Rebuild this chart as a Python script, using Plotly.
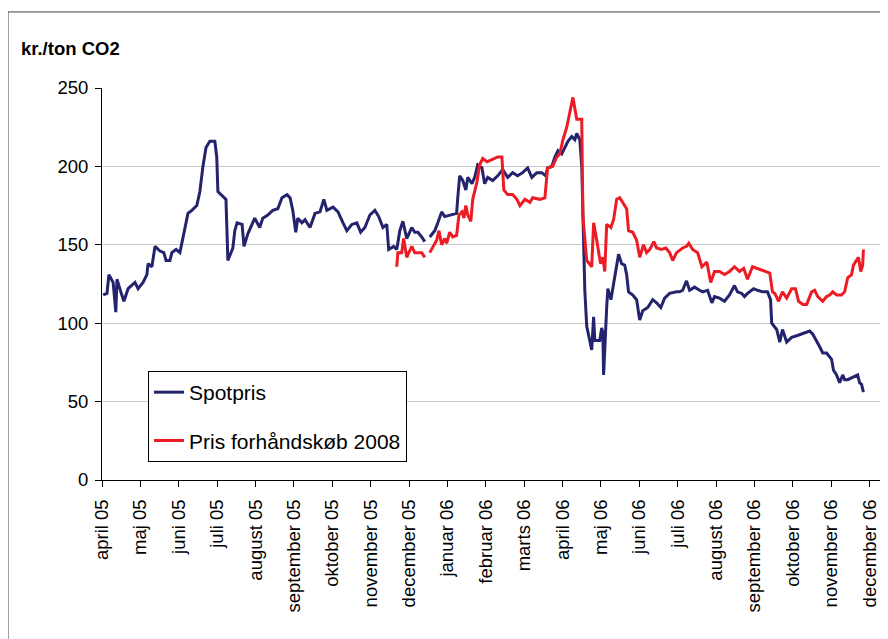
import plotly.graph_objects as go

month_labels = ["april 05", "maj 05", "juni 05", "juli 05", "august 05", "september 05",
                "oktober 05", "november 05", "december 05", "januar 06", "februar 06",
                "marts 06", "april 06", "maj 06", "juni 06", "juli 06", "august 06",
                "september 06", "oktober 06", "november 06", "december 06"]

# (month position from april 05, kr./ton CO2)
spot_points = [
    (0.03, 118), (0.13, 119), (0.18, 131), (0.29, 126), (0.36, 107), (0.39, 128), (0.49, 120), (0.57, 114),
    (0.68, 122), (0.86, 126), (0.94, 122), (1.07, 126), (1.17, 131), (1.20, 138), (1.30, 136), (1.38, 149),
    (1.51, 146), (1.61, 145), (1.67, 140), (1.77, 140), (1.82, 145), (1.93, 147), (2.03, 145), (2.11, 154),
    (2.24, 170), (2.34, 172), (2.47, 175), (2.55, 184), (2.63, 200), (2.71, 212), (2.81, 216), (2.94, 216),
    (2.99, 206), (3.02, 184), (3.18, 180), (3.23, 179), (3.28, 140), (3.41, 148), (3.46, 159), (3.52, 164),
    (3.65, 163), (3.70, 149), (3.80, 157), (3.98, 167), (4.11, 161), (4.19, 167), (4.32, 169), (4.45, 172),
    (4.58, 173), (4.69, 180), (4.82, 182), (4.90, 180), (4.97, 172), (5.05, 158), (5.10, 167), (5.21, 164),
    (5.29, 166), (5.42, 161), (5.55, 170), (5.68, 171), (5.78, 179), (5.86, 172), (6.02, 174), (6.15, 171),
    (6.28, 164), (6.38, 159), (6.51, 163), (6.64, 164), (6.74, 158), (6.85, 161), (6.98, 169), (7.11, 172),
    (7.21, 168), (7.32, 161), (7.42, 163), (7.47, 147), (7.60, 149), (7.68, 147), (7.76, 159), (7.84, 165),
    (7.94, 154), (8.07, 161), (8.15, 158), (8.23, 158), (8.33, 155), (8.41, 152), (8.47, None),
    (8.54, 155), (8.67, 159), (8.75, 164), (8.85, 171), (8.93, 168), (9.06, 169), (9.24, 170), (9.27, 180),
    (9.32, 194), (9.40, 191), (9.48, 185), (9.53, 193), (9.64, 189), (9.71, 193), (9.79, 201), (9.90, 199),
    (9.97, 189), (10.05, 193), (10.18, 191), (10.31, 194), (10.44, 198), (10.57, 193), (10.70, 196), (10.83, 194),
    (10.96, 196), (11.09, 199), (11.20, 193), (11.33, 196), (11.46, 196), (11.56, 194), (11.61, 199), (11.72, 200),
    (11.80, 206), (11.88, 210), (11.98, 208), (12.06, 212), (12.14, 216), (12.24, 219), (12.32, 217), (12.37, 221),
    (12.45, 217), (12.50, 200), (12.53, 164), (12.58, 121), (12.63, 98), (12.71, 89), (12.76, 83), (12.81, 104),
    (12.84, 89), (12.97, 89), (13.02, 97), (13.05, 94), (13.07, 67), (13.15, 110), (13.18, 122), (13.26, 115),
    (13.31, 123), (13.41, 136), (13.46, 144), (13.54, 138), (13.62, 137), (13.67, 131), (13.72, 120), (13.83, 118),
    (13.93, 115), (14.01, 102), (14.09, 108), (14.22, 110), (14.35, 115), (14.45, 113), (14.56, 110), (14.66, 116),
    (14.79, 119), (14.97, 120), (15.05, 120), (15.13, 121), (15.23, 127), (15.31, 121), (15.44, 123), (15.57, 121),
    (15.65, 120), (15.78, 121), (15.89, 113), (15.96, 117), (16.09, 116), (16.22, 114), (16.35, 118), (16.48, 124),
    (16.56, 120), (16.67, 119), (16.74, 117), (16.82, 119), (16.98, 122), (17.08, 121), (17.21, 120), (17.34, 120),
    (17.42, 115), (17.45, 100), (17.58, 96), (17.66, 88), (17.73, 96), (17.84, 88), (17.97, 91), (18.10, 92),
    (18.23, 93), (18.36, 94), (18.44, 95), (18.52, 93), (18.62, 89), (18.70, 85), (18.78, 81), (18.88, 81),
    (19.01, 77), (19.06, 70), (19.14, 67), (19.22, 62), (19.30, 67), (19.35, 64), (19.43, 64), (19.53, 65),
    (19.61, 66), (19.69, 67), (19.74, 62), (19.79, 61), (19.84, 56),
]

forward_points = [
    (7.68, 136), (7.71, 145), (7.81, 145), (7.86, 154), (7.94, 142), (8.02, 147), (8.07, 149), (8.15, 145),
    (8.23, 145), (8.33, 145), (8.41, 142), (8.47, None), (8.54, 145), (8.62, 149), (8.72, 153), (8.78, 159),
    (8.85, 150), (8.93, 154), (8.98, 151), (9.06, 158), (9.14, 155), (9.24, 156), (9.30, 169), (9.38, 171),
    (9.43, 167), (9.48, 175), (9.53, 169), (9.61, 165), (9.66, 179), (9.77, 190), (9.84, 201), (9.92, 205),
    (10.03, 203), (10.13, 204), (10.23, 205), (10.31, 206), (10.42, 206), (10.47, 185), (10.57, 182), (10.70, 182),
    (10.81, 179), (10.89, 175), (11.02, 179), (11.15, 177), (11.22, 180), (11.41, 179), (11.54, 180), (11.61, 199),
    (11.74, 200), (11.85, 206), (11.93, 208), (12.01, 217), (12.11, 225), (12.19, 234), (12.27, 244), (12.37, 230),
    (12.50, 230), (12.53, 168), (12.63, 140), (12.76, 136), (12.81, 164), (12.89, 153), (12.92, 149), (12.99, 138),
    (13.05, 142), (13.10, 133), (13.15, 163), (13.26, 161), (13.33, 166), (13.41, 179), (13.49, 180), (13.57, 177),
    (13.67, 173), (13.72, 159), (13.83, 158), (13.93, 153), (14.01, 142), (14.11, 150), (14.19, 145), (14.27, 147),
    (14.38, 152), (14.45, 148), (14.58, 147), (14.69, 148), (14.79, 145), (14.87, 140), (14.97, 145), (15.13, 148),
    (15.23, 149), (15.29, 151), (15.39, 147), (15.52, 145), (15.63, 136), (15.76, 139), (15.86, 126), (15.96, 133),
    (16.09, 133), (16.22, 131), (16.35, 133), (16.48, 136), (16.61, 133), (16.72, 135), (16.82, 128), (16.95, 136),
    (17.06, 135), (17.19, 134), (17.32, 133), (17.40, 132), (17.47, 120), (17.53, 119), (17.63, 114), (17.73, 120),
    (17.84, 116), (17.97, 122), (18.07, 122), (18.15, 114), (18.26, 112), (18.36, 112), (18.49, 120), (18.57, 121),
    (18.65, 117), (18.78, 114), (18.88, 117), (18.96, 118), (19.04, 120), (19.14, 118), (19.27, 118), (19.35, 120),
    (19.43, 129), (19.53, 131), (19.58, 137), (19.66, 140), (19.71, 142), (19.77, 133), (19.82, 137), (19.84, 147),
]

spot_month = [p[0] for p in spot_points]
spot_price = [p[1] for p in spot_points]
forward_month = [p[0] for p in forward_points]
forward_price = [p[1] for p in forward_points]

FONT = "Liberation Sans, Arial, sans-serif"

fig = go.Figure()
fig.add_trace(go.Scatter(x=spot_month, y=spot_price, mode="lines", name="Spotpris",
                         legendgroup="a", connectgaps=False,
                         line=dict(color="#23236e", width=3)))
fig.add_trace(go.Scatter(x=forward_month, y=forward_price, mode="lines", name="Pris forhåndskøb 2008",
                         legendgroup="b", connectgaps=False,
                         line=dict(color="#ed1c24", width=3)))

# The page body adds an 8px margin, so the figure is 8px smaller and margins are shifted.
fig.update_layout(
    width=880, height=631,
    margin=dict(l=94, r=0, t=80, b=159),
    paper_bgcolor="white", plot_bgcolor="white",
    font=dict(family=FONT, color="black", size=18.5),
    showlegend=True,
    legend=dict(x=0.0585, y=0.278, xanchor="left", yanchor="top",
                bordercolor="black", borderwidth=1, bgcolor="white",
                font=dict(family=FONT, size=21, color="black"),
                traceorder="grouped", tracegroupgap=18),
    xaxis=dict(range=[0, 20.48], tickmode="array", tickvals=list(range(len(month_labels))),
               ticktext=month_labels, tickangle=-90, ticks="outside", ticklen=6,
               tickcolor="black", showline=True, linecolor="black", linewidth=1,
               showgrid=False, zeroline=False, tickfont=dict(size=18.5), ticklabelstandoff=5),
    yaxis=dict(range=[0, 250], tickmode="linear", tick0=0, dtick=50, ticks="outside", ticklen=6,
               tickcolor="black", showline=True, linecolor="black", linewidth=1,
               showgrid=True, gridcolor="#c8c8c8", gridwidth=1, zeroline=False,
               tickfont=dict(size=18.5), ticklabelstandoff=3),
    annotations=[dict(text="<b>kr./ton CO2</b>", xref="paper", yref="paper",
                      x=-0.106, y=1.102, xanchor="left", yanchor="middle",
                      showarrow=False, font=dict(family=FONT, size=18.5, color="black"))],
    shapes=[dict(type="rect", xref="paper", yref="paper", x0=-0.1196, x1=1.05,
                 y0=-0.5, y1=1.194, line=dict(color="#404040", width=1))],
)

fig.write_html("out.html")
